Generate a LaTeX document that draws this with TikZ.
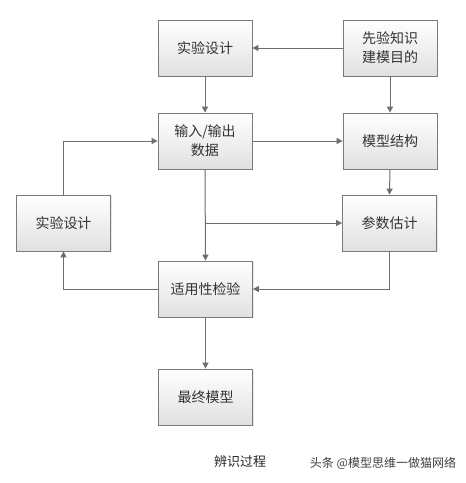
\documentclass[tikz,border=0pt]{standalone}
\usepackage{fontspec}
\setmainfont{Noto Sans CJK SC}
\usetikzlibrary{arrows.meta,shadows}
\definecolor{linegray}{HTML}{6E6E6E}
\definecolor{boxborder}{HTML}{7A7A7A}
\tikzset{
  box/.style={draw=boxborder, line width=0.8pt, top color=white, bottom color=black!12,
    minimum width=94pt, minimum height=56pt, inner sep=2pt, align=center,
    font=\fontsize{14pt}{19pt}\selectfont, text=black!80,
    drop shadow={shadow xshift=1.2pt, shadow yshift=-1.2pt, opacity=0.18}},
  conn/.style={draw=linegray, line width=1pt, -{Triangle[length=6pt,width=6pt]}},
}
\begin{document}
\begin{tikzpicture}[x=1pt,y=-1pt]
\useasboundingbox[fill=white] (0,0) rectangle (466,483);
\node[box] (design) at (205,48) {实验设计};
\node[box] (prior) at (390,48) {先验知识\\建模目的};
\node[box] (io) at (205,141) {输入/输出\\数据};
\node[box] (struct) at (390,141) {模型结构};
\node[box] (design2) at (63.5,223) {实验设计};
\node[box] (param) at (389.5,223) {参数估计};
\node[box] (check) at (205.5,289) {适用性检验};
\node[box] (final) at (205.5,397) {最终模型};
\coordinate (branch) at (io.south |- param.west);
\draw[conn] (prior.west) -- (design.east);
\draw[conn] (design.south) -- (io.north);
\draw[conn] (prior.south) -- (struct.north);
\draw[conn] (io.east) -- (struct.west);
\draw[conn] (struct.south) -- (param.north);
\draw[conn] (io.south) -- (check.north);
\draw[conn] (branch) -- (param.west);
\draw[conn] (param.south) |- (check.east);
\draw[conn] (check.west) -| (design2.south);
\draw[conn] (design2.north) |- (io.west);
\draw[conn] (check.south) -- (final.north);
\node[font=\fontsize{13pt}{15pt}\selectfont, text=black!85] (caption) at (240,462) {辨识过程};
\node[font=\fontsize{12pt}{14pt}\selectfont, text=black!75] (mark) at (383,463) {头条 @模型思维一做猫网络};
\end{tikzpicture}
\end{document}
